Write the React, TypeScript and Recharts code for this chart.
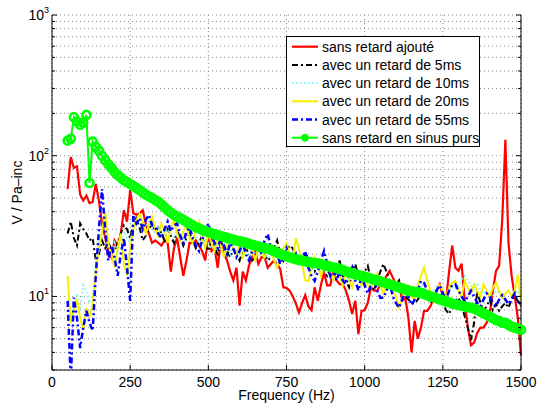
import { LineChart, Line, XAxis, YAxis, CartesianGrid, Legend } from "recharts";

// frequency grid, 10 Hz steps from 50 to 1500 Hz
const freqs = Array.from({ length: 146 }, (_, i) => 50 + i * 10);

const sansRetard = [
  58, 98, 82, 84, 53, 48, 52, 46, 47, 63,
  48, 33, 26, 21, 19, 25, 23, 28, 41, 34,
  57, 39, 38, 39, 41, 33, 28, 24, 25, 24,
  23, 25, 24, 15, 22, 26, 19, 14, 18, 24,
  24, 25, 23, 21, 18, 28, 21, 22, 16, 25,
  20, 18, 15, 13, 16, 8.6, 15, 13, 16.5, 19,
  21, 17, 19, 19, 16, 17, 18, 17, 15.6, 11.6,
  11.5, 11, 10, 8.9, 7.7, 9, 10.2, 8.5, 8, 11.6,
  9.3, 12, 14.8, 12, 12, 15.2, 13, 12.2, 12.2, 11,
  9.3, 7.5, 9.3, 5.4, 7.9, 8, 9, 11.6, 11, 11,
  12, 12.9, 14, 15.2, 13.6, 12.2, 12.9, 9.3, 9.8, 7,
  4.0, 6.7, 5.0, 6, 7.9, 7.9, 8.5, 9.6, 11, 12.2,
  10, 9.3, 15, 23, 16, 15.2, 17.1, 9.3, 6, 4.5,
  4.7, 5.5, 6, 6, 6.5, 7.5, 10.9, 15.2, 16.5, 35,
  130, 24, 14, 10, 7, 3.8,
];

const retard5 = [
  28, 34, 26, 23, 33, 30, 28, 25, 26, 18,
  20, 25, 22, 24, 22, 21, 24, 28, 32, 30,
  26, 33, 36, 31, 25, 27, 30, 33, 29, 31,
  28, 25, 30, 27, 24, 29, 27, 23, 26, 28,
  25, 22, 24, 27, 23, 21, 25, 22, 20, 24,
  23, 21, 19, 22, 20, 18, 21, 22, 20, 18,
  19, 21, 23, 20, 18, 19, 22, 25, 20, 18,
  21, 23, 22, 19, 17, 18, 20, 19, 16, 15,
  17, 18, 15, 14, 16, 17, 15, 18, 14, 13,
  11.6, 15, 17, 14, 12, 15, 16.5, 13, 11, 13,
  15, 17, 15, 12.9, 11, 12, 13, 11, 10, 9.5,
  9, 8.9, 9.5, 10.4, 11, 10, 9, 9.8, 10.4, 10.4,
  9, 8, 7.5, 8.5, 9.3, 9.8, 8.7, 7.2, 6, 4.9,
  6.5, 10.9, 9, 7.9, 8.5, 9.5, 8, 8.8, 7.9, 8.5,
  9, 8.3, 9.5, 10, 9.3, 8.5,
];

const retard10 = [
  8, 7, 9, 10.5, 8, 12, 11, 9, 10, 18,
  24, 28, 26, 22, 20, 24, 21, 25, 29, 26,
  24, 32, 35, 33, 30, 31, 34, 30, 28, 31,
  29, 27, 30, 28, 26, 29, 27, 25, 28, 26,
  24, 27, 25, 23, 26, 24, 22, 25, 23, 21,
  24, 22, 20, 23, 21, 20, 22, 21, 19, 22,
  20, 19, 21, 20, 18, 20, 19, 17, 19, 21,
  19, 18, 20, 18, 17, 18, 19, 16, 15, 17,
  16, 15, 17, 15, 14, 16, 15, 14, 15, 13,
  14, 13, 14.5, 13, 12, 13, 12.5, 12, 13, 12,
  11.5, 12, 11, 12, 11.5, 11, 10.5, 11, 12, 11,
  10, 11, 12, 12.5, 11.5, 11, 10.5, 11, 12, 11.5,
  11, 10.5, 11, 12, 11.5, 12, 13, 14, 13, 12,
  11, 12.5, 11, 10.5, 11, 10.5, 10, 11, 10.5, 10,
  10.5, 11, 10, 10.5, 11, 10,
];

const retard20 = [
  14, 6.5, 8, 9.6, 7, 5.8, 8.3, 7.2, 8.6, 15,
  22, 29, 40, 24, 20, 16, 22, 28, 17, 14,
  22, 30, 35, 38.6, 34, 28, 32, 37, 30, 27,
  33, 29, 24, 31, 35, 28, 25, 29, 32, 26,
  24, 30, 34, 26, 22, 28, 24, 21, 26, 23,
  19, 24, 27, 22, 20, 23, 19, 22, 25, 21,
  18, 22, 20, 19, 23, 21, 18, 16, 19, 22,
  24, 20, 18, 26, 22, 17, 13, 12.9, 16, 19,
  17, 14, 16, 18, 15, 13, 16, 14, 12, 15,
  13, 11.6, 14, 15, 12, 13.5, 12, 11.6, 13, 14.5,
  12, 10.5, 12, 13, 11, 10, 8.3, 9.5, 11.5, 12,
  10, 9.5, 12, 14, 16, 13, 11, 10, 11, 12,
  11, 10, 11.5, 12.5, 12.9, 11, 10, 12.9, 11.5, 10.5,
  12.2, 11, 10, 12.2, 11, 10, 11.5, 12.5, 11, 9.8,
  10.5, 11, 10, 11, 14.3, 8.7,
];

const retard55 = [
  9.3, 2.5, 9.8, 7, 4.3, 6, 7.9, 6.5, 5.7, 14,
  30, 58, 30, 18, 23, 19, 14, 20, 26, 16,
  9.3, 38, 33, 36, 30, 35, 38, 32, 31, 28,
  26, 30, 34, 29, 32, 33, 27, 24, 29, 31,
  26, 23, 21, 25, 29, 33, 27, 24, 22, 26,
  23, 20, 24, 22, 19, 21, 24, 20, 18, 21,
  24, 23.6, 20, 25, 27.8, 22, 20, 20, 17, 19,
  22, 19, 18, 20, 17, 19, 21, 16, 14, 12.9,
  15, 18, 21, 17, 14, 16, 13, 15, 13, 12.2,
  14, 16, 13, 11, 14, 12, 10.5, 12, 13, 11,
  9.8, 9.8, 11, 12.5, 10, 9, 8.3, 9.5, 11, 10,
  8.7, 9.5, 11, 12.9, 12.5, 11, 10, 9.5, 11, 12,
  10.5, 9.5, 11, 12, 12.2, 11, 10, 9.2, 10, 11,
  10, 9, 8.5, 9.5, 10.5, 10, 9, 8.5, 9.5, 10.2,
  9.5, 8.8, 9.6, 10.5, 9.2, 8.8,
];

const sinusPurs = [
  128, 132, 188, 175, 166, 172, 195, 64, 126, 116,
  109, 100, 93, 87, 82, 77, 73, 70, 67, 65,
  63, 61, 59, 57, 55, 53, 51.5, 50, 48.5, 47,
  45, 43, 41, 39.5, 38, 37, 36, 35, 34, 33,
  32, 31, 30.5, 29.8, 29.2, 28.7, 28.2, 27.7, 27.3, 26.9,
  26.5, 26.1, 25.7, 25.4, 25.0, 24.7, 24.4, 24.1, 23.7, 23.3,
  23.0, 22.7, 22.4, 22.1, 21.8, 21.5, 21.0, 20.5, 20.0, 19.6,
  19.3, 19.0, 18.7, 18.4, 18.2, 18.0, 17.8, 17.6, 17.4, 17.3,
  17.2, 17.0, 16.7, 16.5, 16.3, 16.1, 15.9, 15.7, 15.4, 15.1,
  14.9, 14.6, 14.4, 14.2, 14.0, 13.8, 13.6, 13.4, 13.2, 13.0,
  12.8, 12.6, 12.4, 12.2, 12.0, 11.8, 11.6, 11.4, 11.2, 11.0,
  10.9, 10.8, 10.7, 10.6, 10.4, 10.2, 10.0, 9.9, 9.7, 9.5,
  9.4, 9.2, 9.1, 8.9, 8.8, 8.7, 8.6, 8.5, 8.4, 8.3,
  8.2, 8.0, 7.8, 7.6, 7.4, 7.2, 7.0, 6.8, 6.7, 6.5,
  6.5, 6.3, 6.1, 6.0, 5.9, 5.8,
];

const xTicks = [0, 250, 500, 750, 1000, 1250, 1500];
const yTicks = [
  3, 4, 5, 6, 7, 8, 9, 10,
  20, 30, 40, 50, 60, 70, 80, 90, 100,
  200, 300, 400, 500, 600, 700, 800, 900, 1000,
];

const series = [
  { key: "s0", name: "sans retard ajouté", values: sansRetard, color: "#ff0000", width: 2.2, dash: undefined },
  { key: "s1", name: "avec un retard de 5ms", values: retard5, color: "#000000", width: 2, dash: "6 3 2 3" },
  { key: "s2", name: "avec un retard de 10ms", values: retard10, color: "#7ff5f5", width: 2, dash: "1.5 2.5" },
  { key: "s3", name: "avec un retard de 20ms", values: retard20, color: "#f5f000", width: 2, dash: undefined },
  { key: "s4", name: "avec un retard de 55ms", values: retard55, color: "#0000ff", width: 2.5, dash: "6 3 2 3" },
  { key: "s5", name: "sans retard en sinus purs", values: sinusPurs, color: "#00ff00", width: 2, dash: undefined },
];

const rows = freqs.map((f, i) => {
  const row: Record<string, number> = { f };
  series.forEach((s) => {
    row[s.key] = s.values[i];
  });
  return row;
});

const FONT = "'Liberation Sans', Arial, Helvetica, sans-serif";

const isDecade = (v: number) => Math.abs(Math.log10(v) - Math.round(Math.log10(v))) < 1e-9;

const LeftTick = (props: any) => {
  const { x, y, payload } = props;
  const major = isDecade(payload.value);
  const len = major ? 5 : 3;
  return (
    <g>
      <line x1={x} y1={y} x2={x + len} y2={y} stroke="#000" />
      {major && (
        <text x={x - 3} y={y + 5} textAnchor="end" fontSize={14} fontFamily={FONT} fill="#000">
          10
          <tspan dy={-7} fontSize={9}>
            {Math.round(Math.log10(payload.value))}
          </tspan>
        </text>
      )}
    </g>
  );
};

const RightTick = (props: any) => {
  const { x, y, payload } = props;
  const len = isDecade(payload.value) ? 5 : 3;
  return <line x1={x} y1={y} x2={x - len} y2={y} stroke="#000" />;
};

const BottomTick = (props: any) => {
  const { x, y, payload } = props;
  return (
    <g>
      <line x1={x} y1={y} x2={x} y2={y - 5} stroke="#000" />
      <text x={x} y={y + 17} textAnchor="middle" fontSize={14} fontFamily={FONT} fill="#000">
        {payload.value}
      </text>
    </g>
  );
};

const TopTick = (props: any) => {
  const { x, y } = props;
  return <line x1={x} y1={y} x2={x} y2={y + 5} stroke="#000" />;
};

const YLabel = (props: any) => {
  const { viewBox } = props;
  const cx = viewBox.x + 22;
  const cy = viewBox.y + viewBox.height / 2;
  return (
    <text
      x={cx}
      y={cy}
      transform={`rotate(-90 ${cx} ${cy})`}
      textAnchor="middle"
      fontSize={14}
      fontFamily={FONT}
      fill="#000"
    >
      V / Pa–inc
    </text>
  );
};

const XLabel = (props: any) => {
  const { viewBox } = props;
  return (
    <text
      x={viewBox.x + viewBox.width / 2}
      y={viewBox.y + 30}
      textAnchor="middle"
      fontSize={14}
      fontFamily={FONT}
      fill="#000"
    >
      Frequency (Hz)
    </text>
  );
};

const LegendBox = () => {
  const rowH = 18.2;
  return (
    <svg width={194} height={111} style={{ display: "block" }}>
      <rect x={0.5} y={0.5} width={193} height={110} fill="#fff" stroke="#000" />
      {series.map((s, i) => {
        const cy = 10.7 + i * rowH;
        return (
          <g key={s.key}>
            <line
              x1={6}
              y1={cy}
              x2={32}
              y2={cy}
              stroke={s.color}
              strokeWidth={s.width}
              strokeDasharray={s.dash}
            />
            {s.key === "s5" && <circle cx={19} cy={cy} r={3.5} fill={s.color} stroke={s.color} />}
            <text x={36} y={cy + 5} fontSize={14} fontFamily={FONT} fill="#000">
              {s.name}
            </text>
          </g>
        );
      })}
    </svg>
  );
};

export default function App() {
  return (
    <div style={{ position: "absolute", left: 0, top: 0, width: 537, height: 404, background: "#fff" }}>
      <LineChart width={537} height={404} data={rows} margin={{ top: 15, right: 0, bottom: 0, left: 0 }}>
        <CartesianGrid
          xAxisId="b"
          yAxisId="l"
          stroke="#8a8a8a"
          strokeDasharray="1 3"
          strokeWidth={1}
        />
        <XAxis
          xAxisId="b"
          dataKey="f"
          type="number"
          domain={[0, 1500]}
          ticks={xTicks}
          interval={0}
          height={34}
          tickSize={0}
          tickMargin={0}
          tickLine={false}
          axisLine={{ stroke: "#000" }}
          tick={<BottomTick />}
          label={<XLabel />}
        />
        <XAxis
          xAxisId="t"
          orientation="top"
          dataKey="f"
          type="number"
          domain={[0, 1500]}
          ticks={xTicks}
          interval={0}
          height={0}
          tickSize={0}
          tickMargin={0}
          tickLine={false}
          axisLine={{ stroke: "#000" }}
          tick={<TopTick />}
        />
        <YAxis
          yAxisId="l"
          type="number"
          scale="log"
          domain={[3, 1000]}
          allowDataOverflow
          ticks={yTicks}
          interval={0}
          width={52}
          tickSize={0}
          tickMargin={0}
          tickLine={false}
          axisLine={{ stroke: "#000" }}
          tick={<LeftTick />}
          label={<YLabel />}
        />
        <YAxis
          yAxisId="r"
          orientation="right"
          type="number"
          scale="log"
          domain={[3, 1000]}
          allowDataOverflow
          ticks={yTicks}
          interval={0}
          width={16}
          tickSize={0}
          tickMargin={0}
          tickLine={false}
          axisLine={{ stroke: "#000" }}
          tick={<RightTick />}
        />
        <Legend
          layout="vertical"
          align="center"
          verticalAlign="middle"
          content={<LegendBox />}
          wrapperStyle={{ left: 286, top: 36, width: 194, height: 111 }}
        />
        {series.map((s) => (
          <Line
            key={s.key}
            xAxisId="b"
            yAxisId="l"
            dataKey={s.key}
            name={s.name}
            type="linear"
            stroke={s.color}
            strokeWidth={s.width}
            strokeDasharray={s.dash}
            dot={s.key === "s5" ? { r: 4, stroke: s.color, strokeWidth: 2.6, fill: "none" } : false}
            activeDot={false}
            isAnimationActive={false}
          />
        ))}
      </LineChart>
    </div>
  );
}
